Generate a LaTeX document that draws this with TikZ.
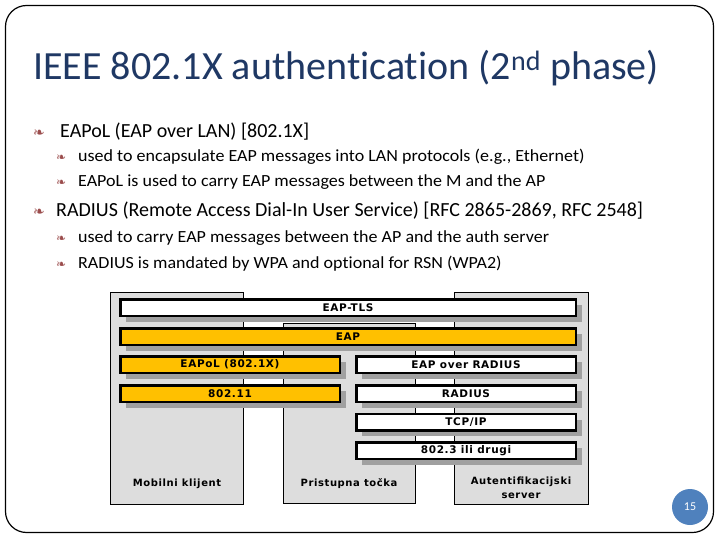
\documentclass[tikz,border=0pt]{standalone}
\usepackage{fontspec}
\setmainfont{Carlito}[Ligatures=NoCommon]
\newfontfamily\widefont{Carlito}[Ligatures=NoCommon, FakeStretch=1.06]
\newfontfamily\diagfont{DejaVu Sans}[LetterSpace=6]
\newfontfamily\symbfont{DejaVu Sans}
\usetikzlibrary{shadows}
\definecolor{titleblue}{HTML}{1F3864}
\definecolor{barorange}{HTML}{FFC000}
\definecolor{colgray}{HTML}{DDDDDD}
\definecolor{shadowgray}{HTML}{A0A0A0}
\definecolor{bulletred}{HTML}{9B4D4D}
\definecolor{numblue}{HTML}{4F81BD}
\begin{document}
\begin{tikzpicture}[x=1pt,y=-1pt,
  colbox/.style={draw=black, line width=0.8pt, fill=colgray, inner sep=0pt},
  barbox/.style={draw=black, line width=2.5pt, minimum height=16.5pt, minimum width=#1, inner sep=0pt,
    font=\diagfont\bfseries\fontsize{10.5}{12}\selectfont,
    drop shadow={shadow xshift=6pt, shadow yshift=-6pt, fill=shadowgray, opacity=1}},
  whitebar/.style={barbox=#1, fill=white},
  orangebar/.style={barbox=#1, fill=barorange},
  collabel/.style={font=\diagfont\bfseries\fontsize{10}{14}\selectfont, align=center, inner sep=0pt},
  bulletA/.style={anchor=base west, inner sep=0pt, text=bulletred, font=\symbfont\fontsize{14}{14}\selectfont},
  bulletB/.style={anchor=base west, inner sep=0pt, text=bulletred, font=\symbfont\fontsize{12}{12}\selectfont},
  lvlA/.style={anchor=base west, inner sep=0pt, font=\fontsize{20}{24}\selectfont},
  lvlB/.style={anchor=base west, inner sep=0pt, font=\widefont\fontsize{17}{20}\selectfont}]
\useasboundingbox (0,0) rectangle (720,540);
% slide frame
\draw[line width=1.2pt, rounded corners=21pt] (5.5,5.5) rectangle (713.5,532.5);
% title
\node[anchor=base west, inner sep=0pt, text=titleblue, font=\fontsize{40}{48}\selectfont] (title) at (33,80)
  {IEEE 802.1X authentication (2\textsuperscript{nd} phase)};
% bullets
\node[bulletA] (ba1) at (33,138) {❧};
\node[lvlA] (ta1) at (60,138) {EAPoL (EAP over LAN) [802.1X]};
\node[bulletB] (bb1) at (56,162) {❧};
\node[lvlB] (tb1) at (78,162) {used to encapsulate EAP messages into LAN protocols (e.g., Ethernet)};
\node[bulletB] (bb2) at (56,187) {❧};
\node[lvlB] (tb2) at (78,187) {EAPoL is used to carry EAP messages between the M and the AP};
\node[bulletA] (ba2) at (33,216) {❧};
\node[lvlA] (ta2) at (56,216) {RADIUS (Remote Access Dial-In User Service) [RFC 2865-2869, RFC 2548]};
\node[bulletB] (bb3) at (56,243) {❧};
\node[lvlB] (tb3) at (78,243) {used to carry EAP messages between the AP and the auth server};
\node[bulletB] (bb4) at (56,268) {❧};
\node[lvlB] (tb4) at (78,268) {RADIUS is mandated by WPA and optional for RSN (WPA2)};
% columns
\node[colbox, minimum width=133pt, minimum height=212pt] (mobile) at (177,398) {};
\node[colbox, minimum width=132pt, minimum height=180pt] (ap) at (349,413) {};
\node[colbox, minimum width=134pt, minimum height=212pt] (server) at (521,398) {};
% bars
\node[whitebar=455.5pt] (tls) at (348,307.5) {EAP-TLS};
\node[orangebar=455.5pt] (eap) at (348,336.5) {EAP};
\node[orangebar=219.5pt] (eapol) at (230,364.5) {EAPoL (802.1X)};
\node[whitebar=219.5pt] (eapr) at (466,364.5) {EAP over RADIUS};
\node[orangebar=219.5pt] (w80211) at (230,393.5) {802.11};
\node[whitebar=219.5pt] (radius) at (466,393.5) {RADIUS};
\node[whitebar=219.5pt] (tcpip) at (466,422) {TCP/IP};
\node[whitebar=219.5pt] (w8023) at (466,450.5) {802.3 ili drugi};
% column labels
\node[collabel] (lmobile) at (177,484) {Mobilni klijent};
\node[collabel] (lap) at (349,484) {Pristupna točka};
\node[collabel] (lserver) at (521,488) {Autentifikacijski\\server};
% page number
\node[circle, fill=numblue, minimum size=36pt, inner sep=0pt, text=white, font=\fontsize{12}{14}\selectfont] (pnum) at (690,507) {15};
\end{tikzpicture}
\end{document}
